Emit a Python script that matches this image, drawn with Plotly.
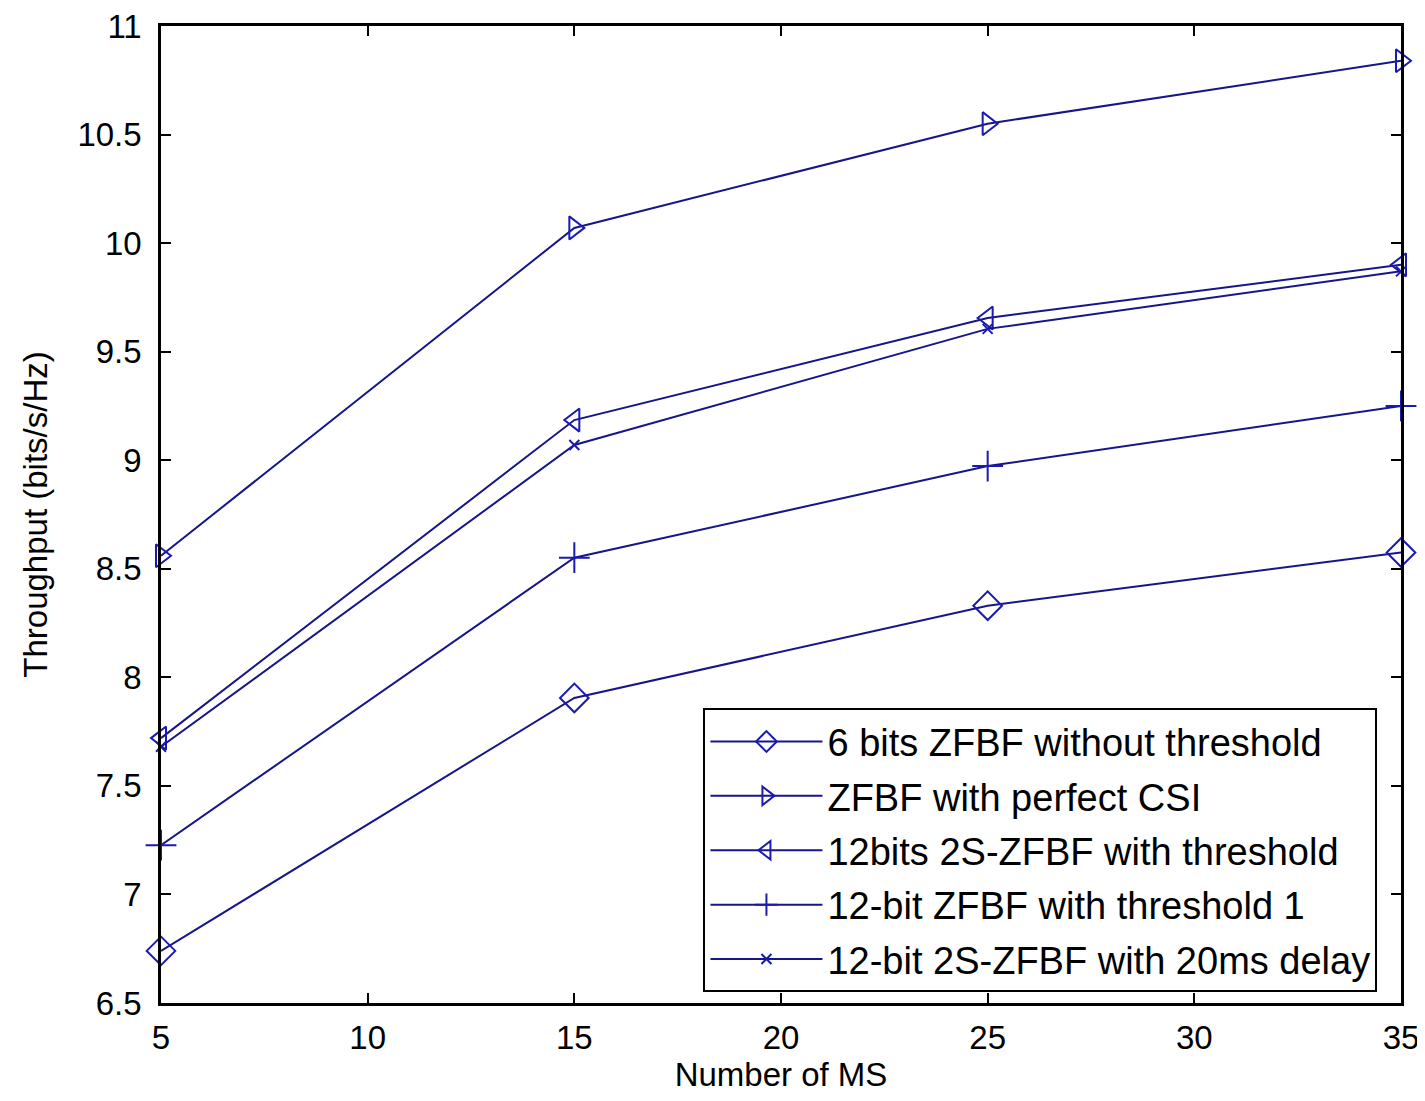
import plotly.graph_objects as go

ms = [5, 15, 25, 35]
names = [
    "6 bits ZFBF without threshold",
    "ZFBF with perfect CSI",
    "12bits 2S-ZFBF with threshold",
    "12-bit ZFBF with threshold 1",
    "12-bit 2S-ZFBF with 20ms delay",
]
s_6bit = [6.74, 7.905, 8.33, 8.575]
s_perfect = [8.56, 10.07, 10.55, 10.84]
s_2s_thr = [7.72, 9.185, 9.655, 9.90]
s_thr1 = [7.227, 8.551, 8.973, 9.25]
s_delay = [7.68, 9.07, 9.605, 9.87]
x_ticks = [5, 10, 15, 20, 25, 30, 35]
y_ticks = [6.5, 7, 7.5, 8, 8.5, 9, 9.5, 10, 10.5, 11]

line_color = "#16168a"
marker_color = "#1a1ab0"
symbols = ["diamond-open", "triangle-right-open", "triangle-left-open", "cross-thin-open", "x-thin-open"]
sizes = [22, 20, 20, 22, 10]
series = [s_6bit, s_perfect, s_2s_thr, s_thr1, s_delay]

fig = go.Figure()
for i, (name, ys, sym, sz) in enumerate(zip(names, series, symbols, sizes)):
    fig.add_trace(go.Scatter(
        x=ms, y=ys, name=name, mode="lines+markers", legendgroup=f"g{i}",
        cliponaxis=False,
        line=dict(color=line_color, width=2),
        marker=dict(symbol=sym, size=sz, color=marker_color,
                    line=dict(color=marker_color, width=2)),
    ))

font_family = "Liberation Sans, Arial, sans-serif"
axis_common = dict(
    showline=True, linecolor="black", linewidth=2.5, mirror="ticks",
    ticks="inside", ticklen=10, tickwidth=2, tickcolor="black",
    showgrid=False, zeroline=False, automargin=False,
    ticklabeloverflow="allow",
    tickfont=dict(family=font_family, size=33, color="black"),
)
fig.update_layout(
    width=1417, height=1093,
    margin=dict(l=153, r=24, t=18, b=98),
    paper_bgcolor="white", plot_bgcolor="white",
    showlegend=True,
    legend=dict(
        x=0.981, y=0.011, xanchor="right", yanchor="bottom",
        bordercolor="black", borderwidth=2, bgcolor="white",
        font=dict(family=font_family, size=38, color="black"),
        tracegroupgap=2, itemwidth=112,
    ),
    xaxis=dict(range=[5, 35], tickvals=x_ticks, ticklabelstandoff=4,
               title=dict(text="Number of MS", font=dict(family=font_family, size=33, color="black"), standoff=8),
               **axis_common),
    yaxis=dict(range=[6.5, 11], tickvals=y_ticks, ticklabelstandoff=10,
               title=dict(text="Throughput (bits/s/Hz)", font=dict(family=font_family, size=33, color="black"), standoff=20),
               **axis_common),
)
fig.write_html("out.html")
